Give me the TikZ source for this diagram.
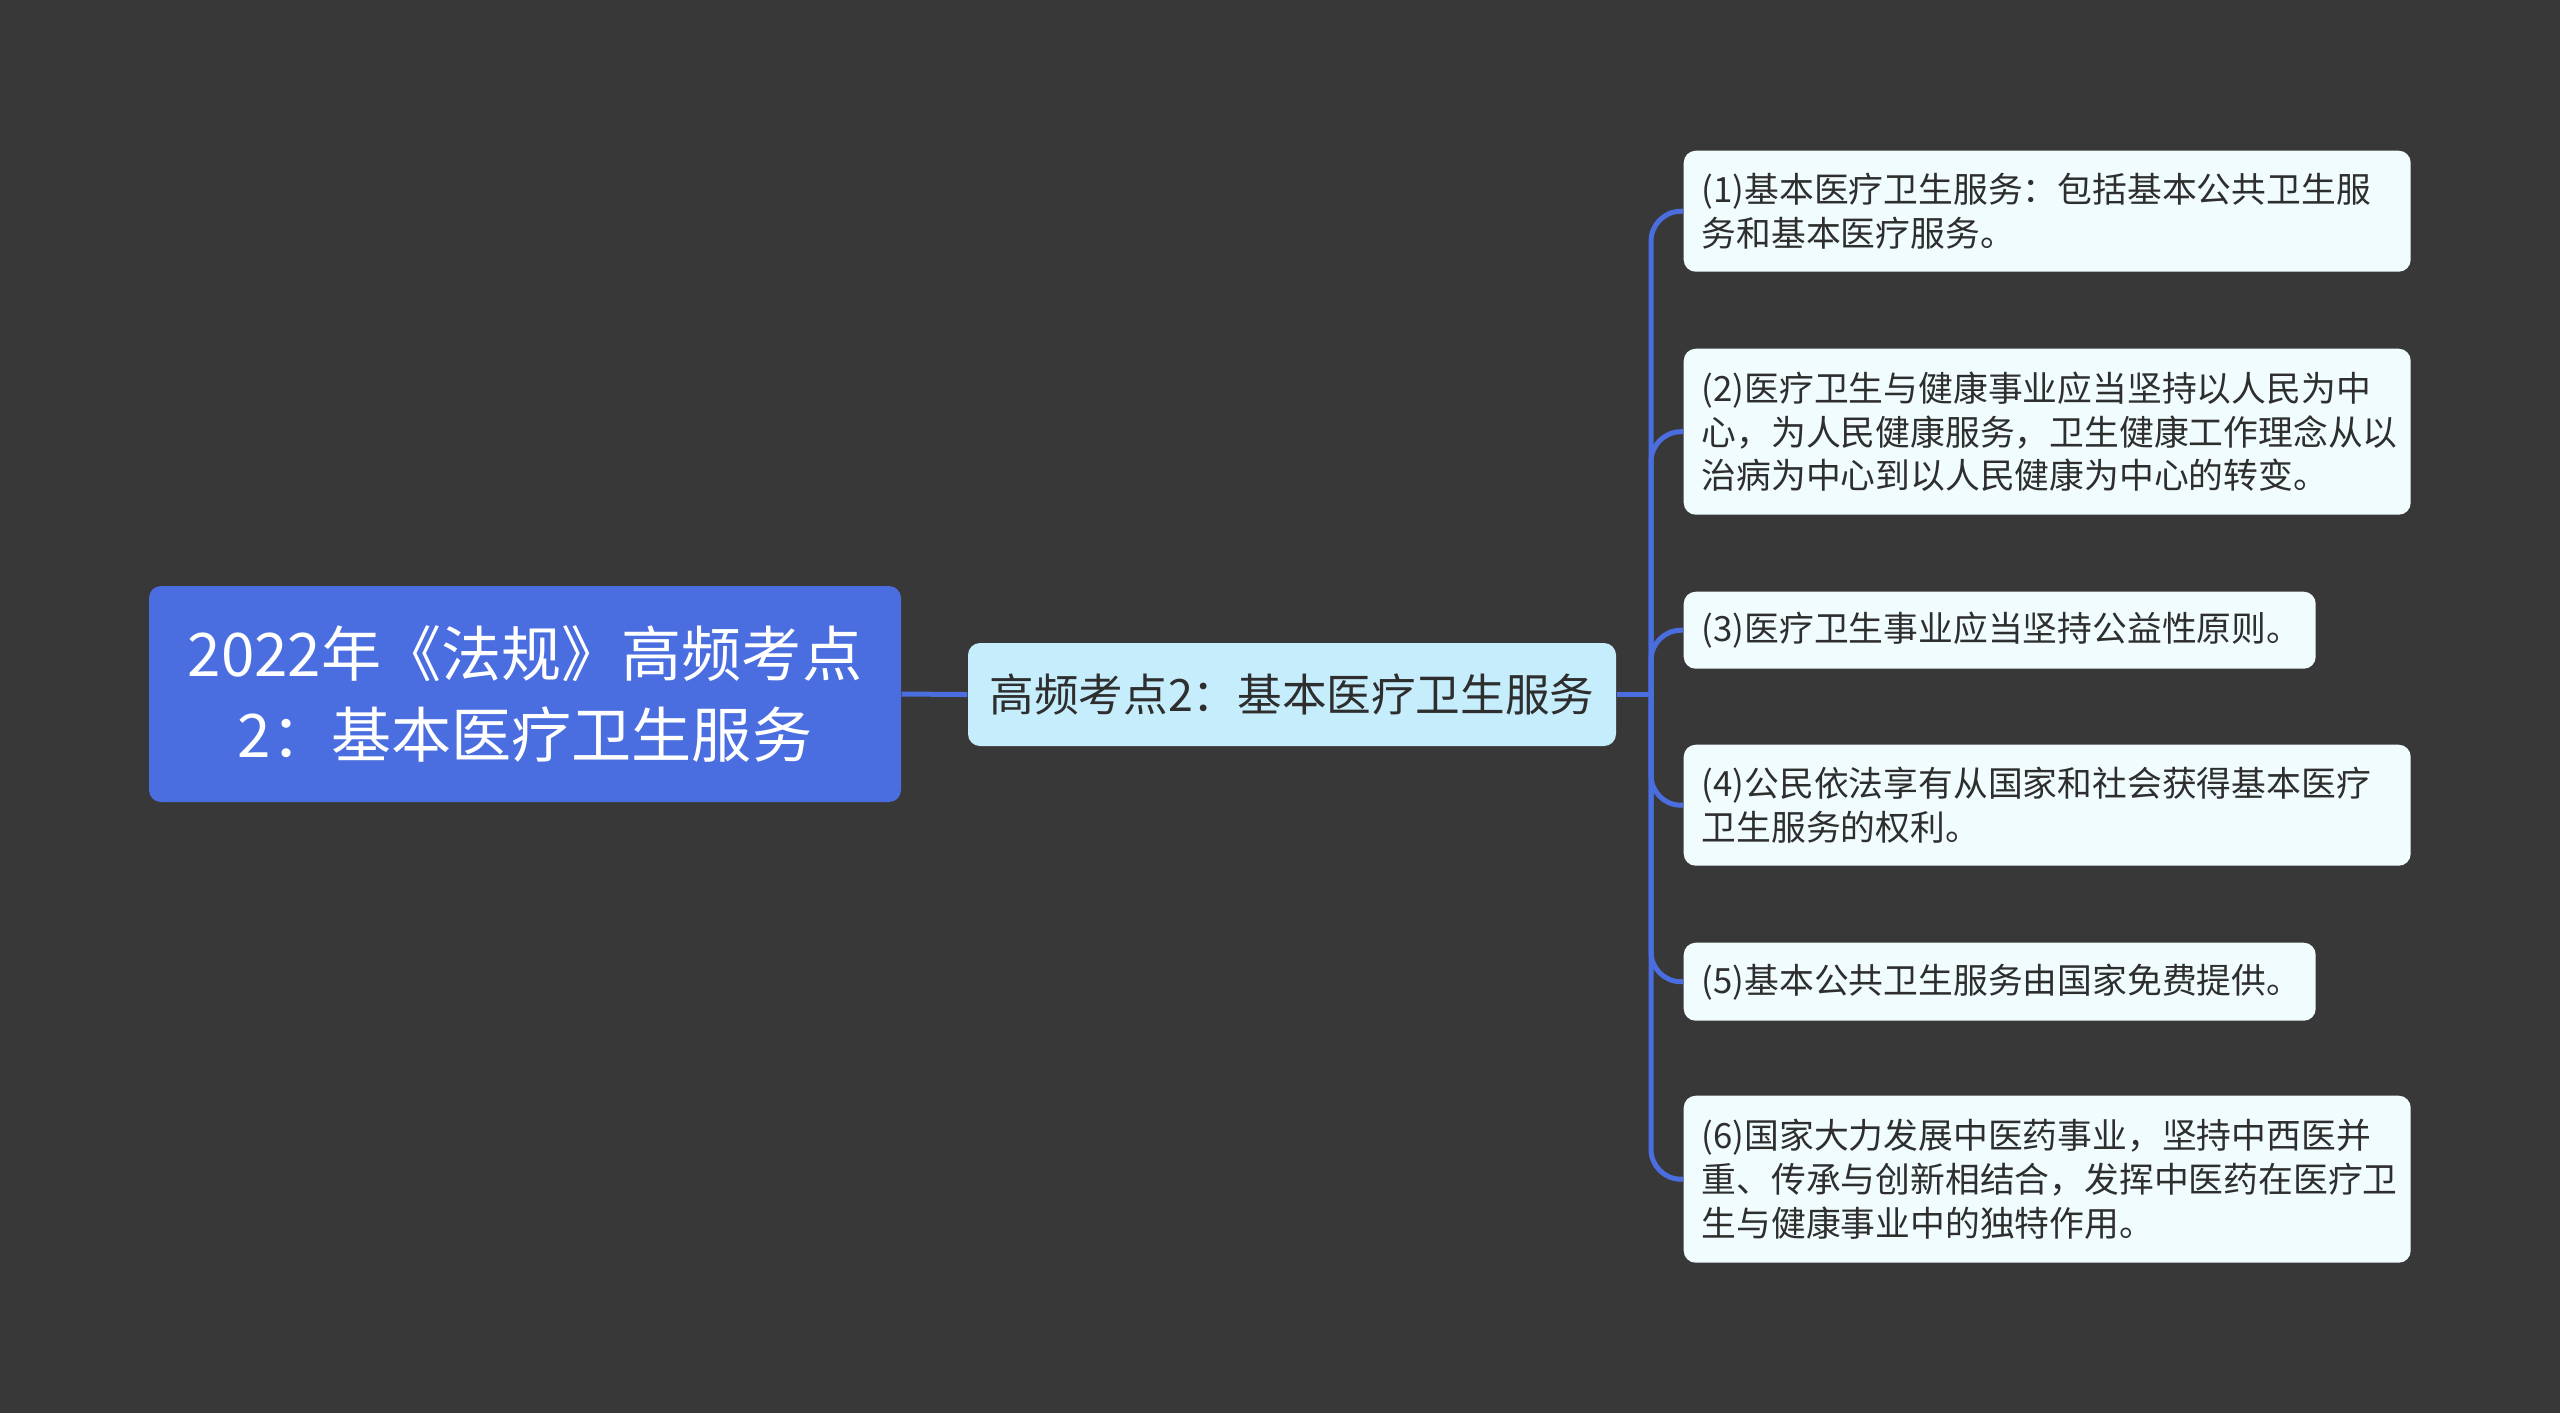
\documentclass[tikz,border=0pt]{standalone}
\usepackage{fontspec}
\setmainfont{Noto Sans CJK SC}
\definecolor{bgc}{HTML}{393838}
\definecolor{rootc}{HTML}{4A6EE0}
\definecolor{linec}{HTML}{4A6EE0}
\definecolor{midc}{HTML}{C6EDFB}
\definecolor{leafc}{HTML}{F0FCFD}
\definecolor{txtc}{HTML}{2E2E2E}
\tikzset{
  rootbox/.style={fill=rootc, rounded corners=0.12cm, text=white, align=center,
    minimum width=7.52cm, minimum height=2.16cm, inner sep=0pt,
    font=\fontsize{17.1pt}{22.8pt}\selectfont},
  midbox/.style={fill=midc, rounded corners=0.12cm, text=txtc, align=center,
    minimum width=6.48cm, minimum height=1.03cm, inner sep=0pt,
    font=\fontsize{12.7pt}{15pt}\selectfont},
  leafbox/.style={fill=leafc, rounded corners=0.12cm, text=txtc, align=left,
    anchor=north west, inner xsep=0.18cm, inner ysep=0pt,
    font=\fontsize{9.9pt}{12.5pt}\selectfont},
  conn/.style={draw=linec, line width=0.05cm},
}
\begin{document}
\begin{tikzpicture}
\fill[bgc] (0,0) rectangle (25.6,-14.13);
\useasboundingbox (0,0) rectangle (25.6,-14.13);

\node[rootbox] (root) at (5.25,-6.94) {2022年《法规》高频考点\\2：基本医疗卫生服务};
\node[midbox] (mid) at (12.92,-6.945) {高频考点2：基本医疗卫生服务};

\node[leafbox, text width=6.91cm, minimum height=1.21cm] (c1) at (16.83,-1.50)
  {(1)基本医疗卫生服务：包括基本公共卫生服\\务和基本医疗服务。};
\node[leafbox, text width=6.91cm, minimum height=1.66cm] (c2) at (16.83,-3.48)
  {(2)医疗卫生与健康事业应当坚持以人民为中\\心，为人民健康服务，卫生健康工作理念从以\\治病为中心到以人民健康为中心的转变。};
\node[leafbox, text width=5.96cm, minimum height=0.77cm] (c3) at (16.83,-5.91)
  {(3)医疗卫生事业应当坚持公益性原则。};
\node[leafbox, text width=6.91cm, minimum height=1.21cm] (c4) at (16.83,-7.44)
  {(4)公民依法享有从国家和社会获得基本医疗\\卫生服务的权利。};
\node[leafbox, text width=5.96cm, minimum height=0.78cm] (c5) at (16.83,-9.42)
  {(5)基本公共卫生服务由国家免费提供。};
\node[leafbox, text width=6.91cm, minimum height=1.67cm] (c6) at (16.83,-10.95)
  {(6)国家大力发展中医药事业，坚持中西医并\\重、传承与创新相结合，发挥中医药在医疗卫\\生与健康事业中的独特作用。};

\coordinate (bus) at (16.51,-6.945);
\draw[conn] (root.east) -- (mid.west);
\draw[conn] (mid.east) -- (bus);
\foreach \c in {c1,c2,c3,c4,c5,c6}{
  \draw[conn, rounded corners=0.3cm] (bus) |- (\c.west);
}
\end{tikzpicture}
\end{document}
